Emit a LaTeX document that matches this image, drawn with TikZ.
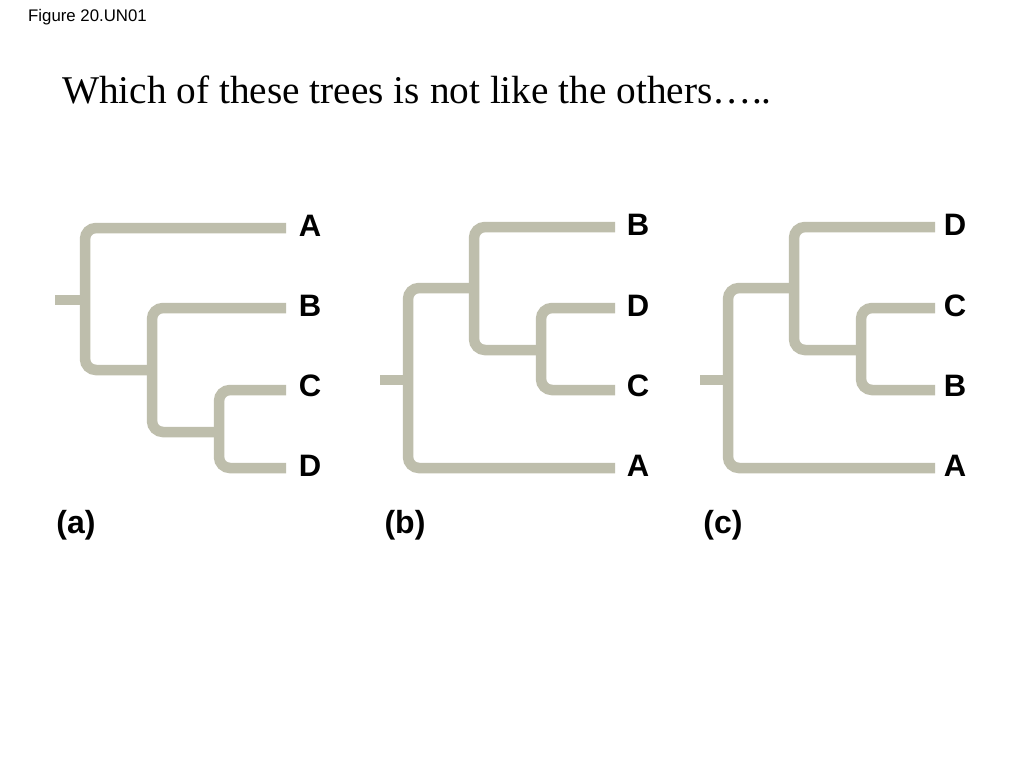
\documentclass[tikz,border=0pt]{standalone}
\usepackage{fontspec}
\setmainfont{Liberation Serif}
\newfontfamily\labelfont{Liberation Sans}
\definecolor{branchgray}{RGB}{190,190,172}
\tikzset{
  branch/.style={draw=branchgray, line width=10.5pt, rounded corners=11pt, line cap=butt},
  taxon/.style={font=\labelfont\bfseries\fontsize{31}{31}\selectfont, inner sep=0pt, anchor=center},
  caption/.style={font=\labelfont\bfseries\fontsize{32}{32}\selectfont, inner sep=0pt}
}
\begin{document}
\begin{tikzpicture}[x=1pt, y=-1pt]
			\useasboundingbox[fill=white] (0,0) rectangle (1024,768);
			\node[font=\labelfont\fontsize{16.8}{16.8}\selectfont, anchor=base west, inner sep=0pt] (fig) at (28,22) {Figure 20.UN01};
			\node[font=\fontsize{39.3}{39.3}\selectfont, anchor=base west, inner sep=0pt] (title) at (62,103) {Which of these trees is not like the others\ldots..};
			% tree (a)
			\coordinate (aroot) at (55,300); \coordinate (a1) at (85,300);
			\coordinate (a2) at (152,370); \coordinate (a3) at (219,432);
			\coordinate (aA) at (286,228); \coordinate (aB) at (286,308);
			\coordinate (aC) at (286,390); \coordinate (aD) at (286,468);
			\draw[branch] (aA) -| (a1) |- (a2);
			\draw[branch] (aroot) -- (a1);
			\draw[branch] (aB) -| (a2) |- (a3);
			\draw[branch] (aC) -| (a3) |- (aD);
			\node[taxon] (la) at (310,226) {A};
			\node[taxon] (lb) at (310,306) {B};
			\node[taxon] (lc) at (310,386) {C};
			\node[taxon] (ld) at (310,466) {D};
			\node[caption] (capa) at (76,525) {(a)};
			% tree (b)
			\coordinate (broot) at (380,380); \coordinate (b1) at (408,380);
			\coordinate (b2) at (474,288); \coordinate (b3) at (541,350);
			\coordinate (bB) at (615,227); \coordinate (bD) at (615,308);
			\coordinate (bC) at (615,390); \coordinate (bA) at (615,468);
			\draw[branch] (b2) -| (b1) |- (bA);
			\draw[branch] (broot) -- (b1);
			\draw[branch] (bB) -| (b2) |- (b3);
			\draw[branch] (bD) -| (b3) |- (bC);
			\node[taxon] (lb2) at (638,225) {B};
			\node[taxon] (ld2) at (638,306) {D};
			\node[taxon] (lc2) at (638,386) {C};
			\node[taxon] (la2) at (638,466) {A};
			\node[caption] (capb) at (405,525) {(b)};
			% tree (c)
			\coordinate (croot) at (700,380); \coordinate (c1) at (728,380);
			\coordinate (c2) at (794,288); \coordinate (c3) at (861,350);
			\coordinate (cD) at (935,227); \coordinate (cC) at (935,308);
			\coordinate (cB) at (935,390); \coordinate (cA) at (935,468);
			\draw[branch] (c2) -| (c1) |- (cA);
			\draw[branch] (croot) -- (c1);
			\draw[branch] (cD) -| (c2) |- (c3);
			\draw[branch] (cC) -| (c3) |- (cB);
			\node[taxon] (ld3) at (955,225) {D};
			\node[taxon] (lc3) at (955,306) {C};
			\node[taxon] (lb3) at (955,386) {B};
			\node[taxon] (la3) at (955,466) {A};
			\node[caption] (capc) at (723,525) {(c)};
		\end{tikzpicture}
\end{document}
